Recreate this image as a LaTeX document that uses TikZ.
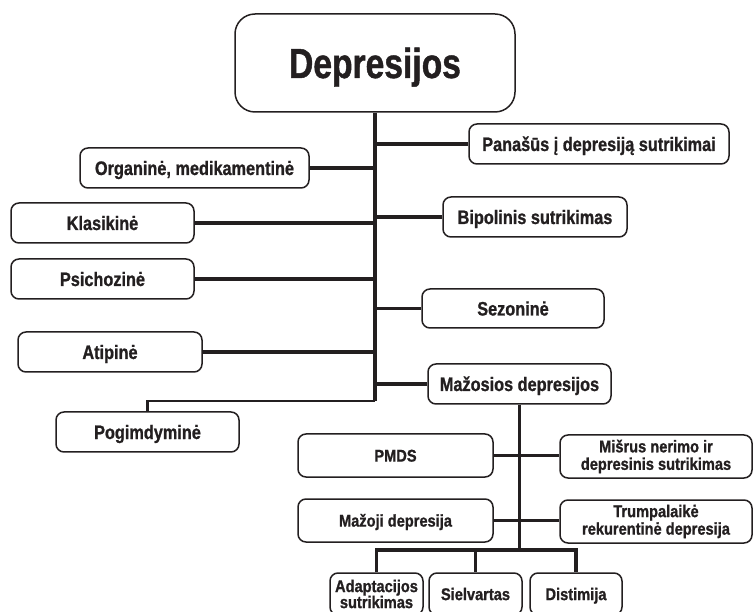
\documentclass[tikz,border=0pt]{standalone}
\usepackage{fontspec}
\newfontfamily\titlef[FakeStretch=0.8,BoldFeatures={FakeBold=1}]{Liberation Sans}
\newfontfamily\mainf[FakeStretch=0.835,BoldFeatures={FakeBold=1}]{Liberation Sans}
\newfontfamily\smallf[FakeStretch=0.86,BoldFeatures={FakeBold=1}]{Liberation Sans}
\definecolor{ink}{RGB}{35,31,32}
\begin{document}
\begin{tikzpicture}[x=1pt,y=-1pt,
  box/.style={draw=ink,line width=1.5pt,rounded corners=8pt,fill=white,text=ink,
    inner sep=0pt,align=center,minimum height=40pt,
    font=\mainf\bfseries\fontsize{19.5}{22}\selectfont},
  one/.style={text height=14pt,text depth=0pt},
  sbox/.style={box,minimum height=43pt,font=\smallf\bfseries\fontsize{17}{17.5}\selectfont},
  sone/.style={text height=12.2pt,text depth=0pt},
  conn/.style={draw=ink,line width=3.4pt},
  thin conn/.style={draw=ink,line width=2.6pt}]
\useasboundingbox (0,0) rectangle (753,612);
\coordinate (tb) at (375,111);
\coordinate (tend) at (375,401);
\coordinate (pogturn) at (147.5,401);
\coordinate (mzend) at (519.5,550);
\coordinate (bl) at (376.5,550);
\coordinate (br) at (576,550);
\coordinate (bm) at (475.5,550);
% nodes
\node[box,minimum width=280pt,minimum height=98pt,rounded corners=20pt,
  text height=30pt,text depth=0pt,
  font=\titlef\bfseries\fontsize{42}{42}\selectfont] (title) at (375,63) {Depresijos};
\node[box,one,minimum width=260pt] (pan) at (599,144) {Panašūs į depresiją sutrikimai};
\node[box,one,minimum width=229pt] (org) at (194.5,168) {Organinė, medikamentinė};
\node[box,one,minimum width=184pt] (bip) at (535,217) {Bipolinis sutrikimas};
\node[box,one,minimum width=183pt] (kla) at (102.5,223) {Klasikinė};
\node[box,one,minimum width=183pt] (psi) at (102.5,279) {Psichozinė};
\node[box,one,minimum width=182pt,minimum height=39pt] (sez) at (513,308.5) {Sezoninė};
\node[box,one,minimum width=184pt] (ati) at (110,352) {Atipinė};
\node[box,one,minimum width=183pt] (maz) at (519.5,384) {Mažosios depresijos};
\node[box,one,minimum width=183pt] (pog) at (147.5,432) {Pogimdyminė};
\node[sbox,sone,minimum width=195pt] (pmds) at (395.5,455.5) {PMDS};
\node[sbox,minimum width=192pt] (mis) at (656,456.5) {Mišrus nerimo ir\\depresinis sutrikimas};
\node[sbox,sone,minimum width=195pt] (mzj) at (395.5,520.5) {Mažoji depresija};
\node[sbox,minimum width=192pt] (tru) at (656,521.5) {Trumpalaikė\\rekurentinė depresija};
\node[sbox,minimum width=93pt,minimum height=42pt,font=\smallf\bfseries\fontsize{17}{16}\selectfont] (ada) at (376.5,594) {Adaptacijos\\sutrikimas};
\node[sbox,sone,minimum width=93pt,minimum height=42pt] (sie) at (475.5,594) {Sielvartas};
\node[sbox,sone,minimum width=92pt,minimum height=42pt] (dis) at (576,594) {Distimija};
% connectors
\draw[conn] (title.south) -- (tend);
\draw[conn] (pan.west) -- (pan.west -| tb);
\draw[conn] (org.east) -- (org.east -| tb);
\draw[conn] (bip.west) -- (bip.west -| tb);
\draw[conn] (kla.east) -- (kla.east -| tb);
\draw[conn] (psi.east) -- (psi.east -| tb);
\draw[conn] (sez.west) -- (sez.west -| tb);
\draw[conn] (ati.east) -- (ati.east -| tb);
\draw[conn] (maz.west) -- (maz.west -| tb);
\draw[thin conn] (tend) -- (pogturn) -- (pog.north);
\draw[conn] (maz.south) -- (mzend);
\draw[conn] (pmds.east) -- (pmds.east -| mis.west);
\draw[conn] (mzj.east) -- (mzj.east -| tru.west);
\draw[conn] (ada.north) -- (bl) -- (br) -- (dis.north);
\draw[conn] (bm) -- (sie.north);
\end{tikzpicture}
\end{document}
